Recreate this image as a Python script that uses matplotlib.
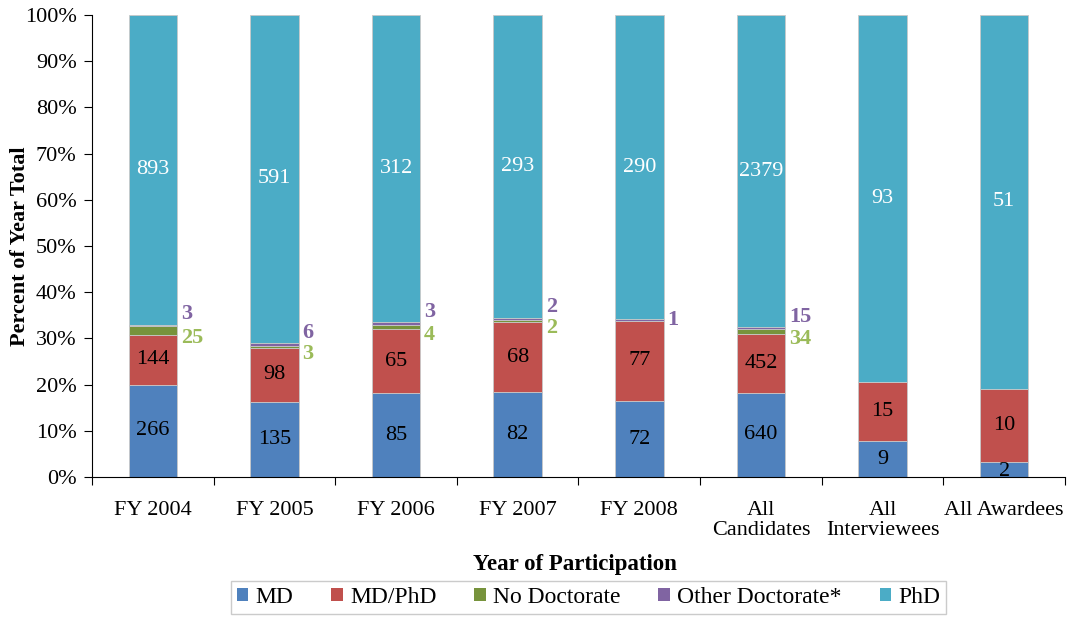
import matplotlib.pyplot as plt
import numpy as np

plt.rcParams['font.family'] = ['Liberation Serif', 'DejaVu Serif']

categories = ['FY 2004', 'FY 2005', 'FY 2006', 'FY 2007', 'FY 2008',
              'All\nCandidates', 'All\nInterviewees', 'All Awardees']
md = [266, 135, 85, 82, 72, 640, 9, 2]
md_phd = [144, 98, 65, 68, 77, 452, 15, 10]
no_doc = [25, 3, 4, 2, 0, 34, 0, 0]
other_doc = [3, 6, 3, 2, 1, 15, 0, 0]
phd = [893, 591, 312, 293, 290, 2379, 93, 51]

names = ['MD', 'MD/PhD', 'No Doctorate', 'Other Doctorate*', 'PhD']
colors = ['#4F81BD', '#C0504D', '#77933C', '#8064A2', '#4BACC6']
series = [md, md_phd, no_doc, other_doc, phd]

counts = np.array(series, dtype=float)
totals = counts.sum(axis=0)
pct = counts / totals * 100

fig = plt.figure(figsize=(10.7, 6.18), dpi=100)
ax = fig.add_axes([0.086, 0.2282, 0.9093, 0.7475])

x = np.arange(len(categories))
w = 0.4
bottom = np.zeros(len(categories))
for i in range(len(series)):
    ax.bar(x, pct[i], w, bottom=bottom, color=colors[i], edgecolor='#C8C8C8',
           linewidth=0.6, label=names[i])
    bottom += pct[i]

# labels inside bars for MD, MD/PhD, PhD
cum = np.vstack([np.zeros(len(categories)), np.cumsum(pct, axis=0)])
for i, col in [(0, 'black'), (1, 'black'), (4, 'white')]:
    for j in range(len(categories)):
        v = series[i][j]
        if v == 0:
            continue
        yc = (cum[i][j] + cum[i + 1][j]) / 2
        if i == 0 and pct[i][j] < 5:
            yc = cum[i + 1][j] / 2 - 0.5
        ax.text(x[j], yc, str(v), ha='center', va='center', color=col, fontsize=16)

# small categories labeled beside the bar
for j in range(len(categories)):
    nd, od = no_doc[j], other_doc[j]
    xr = x[j] + w / 2 + 0.03
    if nd and od:
        ax.text(xr, (cum[2][j] + cum[3][j]) / 2 - 1.6, str(nd), color='#9BBB59',
                fontsize=16, fontweight='bold', va='center', ha='left')
        ax.text(xr, (cum[3][j] + cum[4][j]) / 2 + 2.5, str(od), color='#8064A2',
                fontsize=16, fontweight='bold', va='center', ha='left')
    elif od:
        ax.text(xr, (cum[3][j] + cum[4][j]) / 2, str(od), color='#8064A2',
                fontsize=16, fontweight='bold', va='center', ha='left')

ax.set_xlim(-0.5, len(categories) - 0.5)
ax.set_ylim(0, 100)
ax.set_yticks(np.arange(0, 101, 10))
ax.set_yticklabels([f'{t}%' for t in range(0, 101, 10)], fontsize=16)
ax.set_xticks(np.arange(-0.5, len(categories), 1))
ax.set_xticklabels([])
ax.set_xticks(x, minor=True)
ax.set_xticklabels(categories, minor=True, fontsize=16, linespacing=1.1)
ax.tick_params(axis='x', which='minor', length=0, pad=17)
ax.tick_params(axis='x', which='major', length=6, direction='out')
ax.tick_params(axis='y', length=6, direction='out', pad=5)
for s in ['top', 'right']:
    ax.spines[s].set_visible(False)

ax.set_ylabel('Percent of Year Total', fontsize=16, fontweight='bold')
ax.yaxis.set_label_coords(-0.064, 0.5)
fig.text(0.537, 0.086, 'Year of Participation', ha='center', va='center',
         fontsize=16.5, fontweight='bold')

leg = fig.legend(loc='lower center', bbox_to_anchor=(0.55, -0.012), ncol=5,
                 fontsize=17, frameon=True, fancybox=False, handlelength=0.5,
                 handleheight=0.5, handletextpad=0.3, columnspacing=1.6,
                 borderpad=0.25)
leg.get_frame().set_edgecolor('#BFBFBF')
for h in leg.legend_handles:
    h.set_edgecolor('none')

fig.savefig('out.png', dpi=100)
